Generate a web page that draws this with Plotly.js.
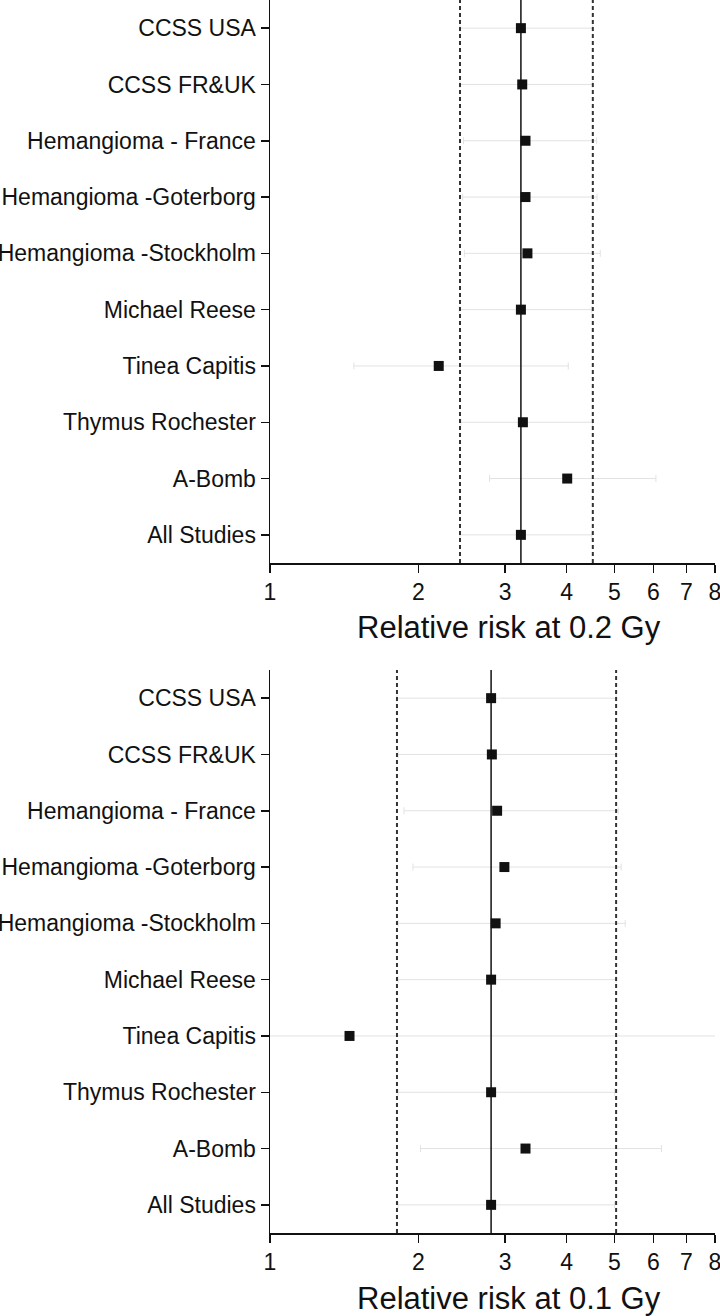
<!DOCTYPE html>
<html>
<head>
<meta charset="utf-8">
<script src="https://cdn.plot.ly/plotly-3.0.1.min.js"></script>
<style>
html,body{margin:0;padding:0;background:#fff;}
#chart{width:720px;height:1316px;}
</style>
</head>
<body>
<div id="chart"></div>
<script>
// Study names (top to bottom)
var studies = ["CCSS USA", "CCSS FR&UK", "Hemangioma - France", "Hemangioma -Goterborg",
  "Hemangioma -Stockholm", "Michael Reese", "Tinea Capitis", "Thymus Rochester", "A-Bomb", "All Studies"];

// Relative risk at 0.2 Gy
var rr02 = [3.23, 3.25, 3.30, 3.30, 3.33, 3.23, 2.20, 3.26, 4.01, 3.23];
var lo02 = [2.43, 2.43, 2.47, 2.46, 2.48, 2.42, 1.48, 2.44, 2.79, 2.43];
var hi02 = [4.52, 4.52, 4.60, 4.61, 4.68, 4.50, 4.03, 4.51, 6.07, 4.50];
var pooled02 = {est: 3.23, lo: 2.43, hi: 4.52};

// Relative risk at 0.1 Gy
var rr01 = [2.81, 2.82, 2.89, 2.99, 2.87, 2.81, 1.45, 2.81, 3.30, 2.81];
var lo01 = [1.81, 1.82, 1.87, 1.95, 1.82, 1.82, 0.90, 1.82, 2.02, 1.82];
var hi01 = [5.04, 5.04, 5.09, 5.16, 5.26, 5.04, 9.50, 5.00, 6.23, 5.00];
var pooled01 = {est: 2.81, lo: 1.81, hi: 5.04};

var xTicks = [1, 2, 3, 4, 5, 6, 7, 8];
var xTickText = ["1", "2", "3", "4", "5", "6", "7", "8"];
var titles = ["Relative risk at 0.2 Gy", "Relative risk at 0.1 Gy"];

function diff(a, b) { return a.map(function (v, i) { return v - b[i]; }); }

function trace(rr, lo, hi, xa, ya) {
  return {
    type: "scatter", mode: "markers", x: rr, y: studies, xaxis: xa, yaxis: ya,
    marker: {symbol: "square", size: 10, color: "#111111"},
    error_x: {type: "data", symmetric: false, array: diff(hi, rr), arrayminus: diff(rr, lo),
      color: "#e2e2e2", thickness: 1, width: 3.5},
    showlegend: false, hoverinfo: "x+y"
  };
}

var fontFam = "Liberation Sans, Arial, Helvetica, sans-serif";

function xaxisDef() {
  return {
    type: "log", range: [0, Math.log10(8) + 1e-5], tickvals: xTicks, ticktext: xTickText,
    showgrid: false, zeroline: false, showline: true, linecolor: "#111", linewidth: 1.5,
    ticks: "outside", ticklen: 8, tickwidth: 1.5, tickcolor: "#111",
    tickfont: {family: fontFam, size: 23, color: "#111"}, ticklabeloverflow: "allow",
    automargin: false, mirror: false
  };
}
function yaxisDef(domain) {
  return {
    type: "category", categoryorder: "array", categoryarray: studies, range: [9.5, -0.5],
    domain: domain, showgrid: false, zeroline: false, showline: true, linecolor: "#111", linewidth: 1.5,
    ticks: "outside", ticklen: 8, tickwidth: 1.5, tickcolor: "#111",
    tickfont: {family: fontFam, size: 23, color: "#111"}, ticklabeloverflow: "allow", automargin: false
  };
}

function refLines(p, xr, yr) {
  var ydom = yr + " domain";
  return [
    {type: "line", xref: xr, yref: ydom, x0: p.est, x1: p.est, y0: 0, y1: 1, line: {color: "#111", width: 1.5}},
    {type: "line", xref: xr, yref: ydom, x0: p.lo, x1: p.lo, y0: 0, y1: 1, line: {color: "#333", width: 2, dash: "4px,3px"}},
    {type: "line", xref: xr, yref: ydom, x0: p.hi, x1: p.hi, y0: 0, y1: 1, line: {color: "#333", width: 2, dash: "4px,3px"}}
  ];
}

var topDom = [1 - 563 / 1233, 1];
var botDom = [0, 563 / 1233];

var xa1 = xaxisDef(); xa1.anchor = "y";
var xa2 = xaxisDef(); xa2.anchor = "y2";
var ya1 = yaxisDef(topDom); ya1.anchor = "x";
var ya2 = yaxisDef(botDom); ya2.anchor = "x2";

function titleAnn(text, py) {
  return {text: text, xref: "paper", yref: "paper", x: (509 - 270) / 445, y: (1233 - py) / 1233,
    xanchor: "center", yanchor: "top", showarrow: false,
    font: {family: fontFam, size: 31, color: "#111"}};
}

var layout = {
  width: 720, height: 1316,
  margin: {l: 270, r: 5, t: 0, b: 83},
  paper_bgcolor: "#fff", plot_bgcolor: "#fff",
  font: {family: fontFam, color: "#111"},
  xaxis: xa1, yaxis: ya1, xaxis2: xa2, yaxis2: ya2,
  shapes: refLines(pooled02, "x", "y").concat(refLines(pooled01, "x2", "y2")),
  annotations: [titleAnn(titles[0], 608), titleAnn(titles[1], 1279)],
  showlegend: false
};

Plotly.newPlot("chart", [trace(rr02, lo02, hi02, "x", "y"), trace(rr01, lo01, hi01, "x2", "y2")], layout,
  {displayModeBar: false, staticPlot: true});
</script>
</body>
</html>
